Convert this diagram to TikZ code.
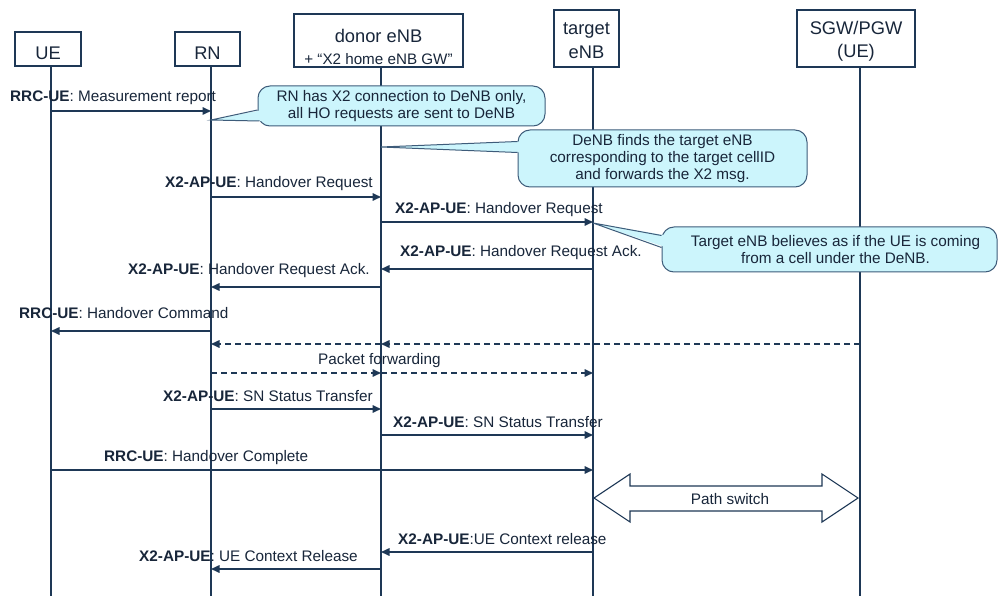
\documentclass[tikz,border=0pt]{standalone}
\usepackage{fontspec}
\setmainfont{Liberation Sans}
\usetikzlibrary{arrows.meta,calc}
\definecolor{navy}{RGB}{30,56,86}
\definecolor{txt}{RGB}{24,38,58}
\definecolor{cfill}{RGB}{204,245,252}
\definecolor{cline}{RGB}{62,92,122}
\tikzset{
  hdr/.style={draw=navy, line width=1.3pt, fill=white, inner sep=0pt},
  htxt/.style={text=txt, align=center, inner sep=0pt, font=\fontsize{18.3}{23}\selectfont},
  life/.style={draw=navy, line width=1.8pt},
  msg/.style={draw=navy, line width=1.6pt, -{Triangle[length=8.5pt,width=7.5pt]}},
  dmsg/.style={msg, dash pattern=on 6pt off 4pt},
  lbl/.style={font=\fontsize{15.3}{17}\selectfont, text=txt, inner sep=0pt, anchor=base west},
  cbox/.style={draw=cline, line width=1pt, fill=cfill, rounded corners=12pt, align=center,
               text=txt, inner sep=0pt, font=\fontsize{15.3}{17}\selectfont},
  cptr/.style={draw=cline, line width=1pt},
  bigarrow/.style={draw=navy, line width=1.1pt, fill=white, line join=miter},
}
\begin{document}
\begin{tikzpicture}[x=1pt,y=-1pt]
\useasboundingbox[fill=white] (0,0) rectangle (999,596);

% lifeline anchors
\coordinate (Lue) at (51,65);
\coordinate (Lrn) at (211,65);
\coordinate (Lde) at (381,66);
\coordinate (Lte) at (593,66);
\coordinate (Lsg) at (860,66);
\coordinate (bot) at (0,596);
\foreach \c in {Lue,Lrn,Lde,Lte,Lsg} \draw[life] (\c) -- (\c |- bot);

% headers
\node[hdr, minimum width=66pt, minimum height=34pt,
      label={[htxt, yshift=-4pt]center:UE}] (ue) at (48,49) {};
\node[hdr, minimum width=65pt, minimum height=34pt,
      label={[htxt, yshift=-4pt]center:RN}] (rn) at (207.5,49) {};
\node[hdr, minimum width=169pt, minimum height=53pt,
      label={[htxt, yshift=-6.5pt, font=\fontsize{18.3}{22}\selectfont]center:{donor eNB\\{\fontsize{15.2}{17}\selectfont + “X2 home eNB GW”}}}] (denb) at (378.5,40.5) {};
\node[hdr, minimum width=65pt, minimum height=57pt,
      label={[htxt, yshift=-2.5pt, font=\fontsize{18.3}{24}\selectfont]center:{target\\eNB}}] (tenb) at (586.5,38.5) {};
\node[hdr, minimum width=118pt, minimum height=57pt,
      label={[htxt, yshift=-3pt]center:{SGW/PGW\\(UE)}}] (sgw) at (856,38.5) {};

% message levels
\coordinate (y1) at (0,111);
\coordinate (y2) at (0,197);
\coordinate (y3) at (0,222);
\coordinate (y4) at (0,269);
\coordinate (y5) at (0,287);
\coordinate (y6) at (0,331);
\coordinate (d1) at (0,344);
\coordinate (d2) at (0,373);
\coordinate (y7) at (0,409);
\coordinate (y8) at (0,435);
\coordinate (y9) at (0,470);
\coordinate (yp) at (0,498);
\coordinate (y10) at (0,552);
\coordinate (y11) at (0,569);

\draw[msg] (Lue |- y1) -- (Lrn |- y1);
\node[lbl] (t1) at (10,102) {\textbf{RRC-UE}: Measurement report};

\draw[msg] (Lrn |- y2) -- (Lde |- y2);
\node[lbl] (t2) at (165,188) {\textbf{X2-AP-UE}: Handover Request};

\draw[msg] (Lde |- y3) -- (Lte |- y3);
\node[lbl] (t3) at (395,214) {\textbf{X2-AP-UE}: Handover Request};

\draw[msg] (Lte |- y4) -- (Lde |- y4);
\node[lbl] (t4) at (400,257) {\textbf{X2-AP-UE}: Handover Request Ack.};

\draw[msg] (Lde |- y5) -- (Lrn |- y5);
\node[lbl] (t5) at (128,274) {\textbf{X2-AP-UE}: Handover Request Ack.};

\draw[msg] (Lrn |- y6) -- (Lue |- y6);
\node[lbl] (t6) at (19,318) {\textbf{RRC-UE}: Handover Command};

\draw[dmsg] (Lsg |- d1) -- (Lde |- d1);
\draw[dmsg] (Lde |- d1) -- (Lrn |- d1);
\node[lbl] (tpf) at (318,364) {Packet forwarding};
\draw[dmsg] (Lrn |- d2) -- (Lde |- d2);
\draw[dmsg] (Lde |- d2) -- (Lte |- d2);

\draw[msg] (Lrn |- y7) -- (Lde |- y7);
\node[lbl] (t7) at (163,401) {\textbf{X2-AP-UE}: SN Status Transfer};

\draw[msg] (Lde |- y8) -- (Lte |- y8);
\node[lbl] (t8) at (393,427) {\textbf{X2-AP-UE}: SN Status Transfer};

\draw[msg] (Lue |- y9) -- (Lte |- y9);
\node[lbl] (t9) at (104,461) {\textbf{RRC-UE}: Handover Complete};

% path switch double arrow
\coordinate (psl) at ($(Lte |- yp)+(1,0)$);
\coordinate (psr) at ($(Lsg |- yp)+(-2,0)$);
\draw[bigarrow] (psl) -- ($(psl)+(36,-24)$) -- ($(psl)+(36,-12)$) -- ($(psr)+(-36,-12)$)
  -- ($(psr)+(-36,-24)$) -- (psr) -- ($(psr)+(-36,24)$) -- ($(psr)+(-36,13)$)
  -- ($(psl)+(36,13)$) -- ($(psl)+(36,24)$) -- cycle;
\node[font=\fontsize{15.3}{17}\selectfont, text=txt, inner sep=0pt] (tps) at (730,499) {Path switch};

\draw[msg] (Lte |- y10) -- (Lde |- y10);
\node[lbl] (t10) at (398,544) {\textbf{X2-AP-UE}:UE Context release};

\draw[msg] (Lde |- y11) -- (Lrn |- y11);
\node[lbl] (t11) at (139,561) {\textbf{X2-AP-UE}: UE Context Release};

% callouts
\node[cbox, minimum width=287pt, minimum height=40pt] (cA) at (401.5,106)
  {RN has X2 connection to DeNB only,\\all HO requests are sent to DeNB};
\coordinate (tipA) at (Lrn |- 0,120);
\fill[cfill] (tipA) -- ($(cA.west)+(5,4)$) -- ($(cA.west)+(5,15)$) -- cycle;
\draw[cptr] ($(cA.west)+(0,4)$) -- (tipA) -- ($(cA.west)+(2,15)$);

\node[cbox, minimum width=289pt, minimum height=57pt] (cB) at (662.5,158.5)
  {DeNB finds the target eNB\\corresponding to the target cellID\\and forwards the X2 msg.};
\coordinate (tipB) at (Lde |- 0,147);
\fill[cfill] (tipB) -- ($(cB.west)+(5,-17)$) -- ($(cB.west)+(5,-6)$) -- cycle;
\draw[cptr] ($(cB.west)+(0,-17)$) -- (tipB) -- ($(cB.west)+(0,-6)$);

\node[cbox, minimum width=335pt, minimum height=45pt] (cC) at (829.5,249.5)
  {\hspace*{12pt}Target eNB believes as if the UE is coming\\\hspace*{12pt}from a cell under the DeNB.};
\coordinate (tipC) at (Lte |- 0,223);
\fill[cfill] (tipC) -- ($(cC.west)+(5,-14)$) -- ($(cC.west)+(5,-2)$) -- cycle;
\draw[cptr] ($(cC.west)+(0,-14)$) -- (tipC) -- ($(cC.west)+(0,-2)$);
\end{tikzpicture}
\end{document}
